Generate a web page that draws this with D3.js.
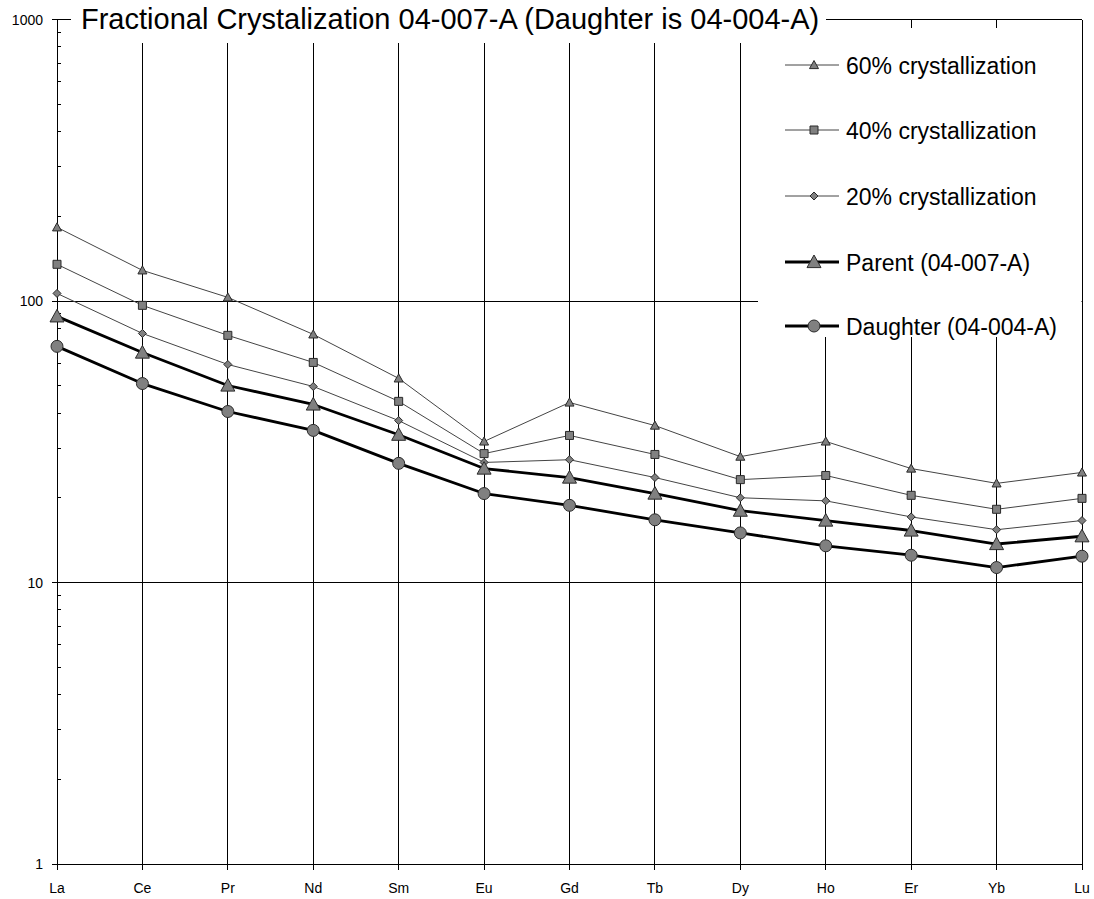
<!DOCTYPE html>
<html>
<head>
<meta charset="utf-8">
<script src="https://cdn.jsdelivr.net/npm/d3@7"></script>
<style>
  html, body { margin: 0; padding: 0; background: #fff; }
  svg { display: block; font-family: "Liberation Sans", Arial, sans-serif; }
</style>
</head>
<body>
<svg id="chart" width="1094" height="899"></svg>
<script>
// Rare earth elements along the x axis
const elements = ["La","Ce","Pr","Nd","Sm","Eu","Gd","Tb","Dy","Ho","Er","Yb","Lu"];

// Chondrite-normalised concentrations
const cryst60 = [182.7,128.5,103,76.1,53.1,31.7,43.6,36.1,28.0,31.7,25.4,22.5,24.6];
const cryst40 = [135,96.5,75.5,60.5,44,28.7,33.3,28.5,23.2,24.0,20.4,18.2,19.9];
const cryst20 = [106.4,76.7,59.5,49.7,37.6,26.7,27.3,23.6,20.0,19.5,17.1,15.4,16.6];
const parent  = [88.2,65.6,50.1,42.9,33.5,25.4,23.6,20.7,18.0,16.6,15.3,13.7,14.6];
const daughter= [69.0,50.9,40.5,34.7,26.5,20.7,18.8,16.7,15.0,13.5,12.5,11.3,12.4];

const yTickValues = [1, 10, 100, 1000];
const seriesNames = ["60% crystallization","40% crystallization","20% crystallization","Parent (04-007-A)","Daughter (04-004-A)"];
const titleText = "Fractional Crystalization 04-007-A (Daughter is 04-004-A)";

const series = [
  { name: seriesNames[0], values: cryst60, marker: "triangle", size: 9,  thick: false },
  { name: seriesNames[1], values: cryst40, marker: "square",   size: 8,  thick: false },
  { name: seriesNames[2], values: cryst20, marker: "diamond",  size: 8,  thick: false },
  { name: seriesNames[3], values: parent,  marker: "triangle", size: 14, thick: true },
  { name: seriesNames[4], values: daughter,marker: "circle",   size: 12, thick: true }
];

const svg = d3.select("#chart");
const plotLeft = 57, plotRight = 1082, plotTop = 19.5, plotBottom = 864;

const x = d3.scalePoint().domain(elements).range([plotLeft, plotRight]);
const y = d3.scaleLog().domain([1, 1000]).range([plotBottom, plotTop]);

svg.append("rect").attr("width", 1094).attr("height", 899).attr("fill", "#fff");

// Grid: vertical lines at each element, horizontal at decades
const grid = svg.append("g").attr("stroke", "#000").attr("stroke-width", 1).attr("shape-rendering", "crispEdges");
grid.selectAll("line.v").data(elements).join("line")
  .attr("class", "v")
  .attr("x1", d => x(d)).attr("x2", d => x(d))
  .attr("y1", y(1000)).attr("y2", y(1));
grid.selectAll("line.h").data(yTickValues).join("line")
  .attr("class", "h")
  .attr("x1", plotLeft).attr("x2", plotRight)
  .attr("y1", d => y(d)).attr("y2", d => y(d));

// Y axis with log minor ticks on the inside
const yAxis = svg.append("g").attr("shape-rendering", "crispEdges");
yAxis.append("line").attr("x1", plotLeft).attr("x2", plotLeft).attr("y1", y(1000)).attr("y2", y(1)).attr("stroke", "#000");
const minor = [];
[1, 10, 100].forEach(d => { for (let k = 2; k <= 9; k++) minor.push(d * k); });
yAxis.selectAll("line.minor").data(minor).join("line")
  .attr("class", "minor")
  .attr("x1", plotLeft).attr("x2", plotLeft + 4)
  .attr("y1", d => y(d)).attr("y2", d => y(d)).attr("stroke", "#000");
yAxis.selectAll("line.major").data(yTickValues).join("line")
  .attr("class", "major")
  .attr("x1", plotLeft - 5).attr("x2", plotLeft)
  .attr("y1", d => y(d)).attr("y2", d => y(d)).attr("stroke", "#000");
yAxis.selectAll("text").data(yTickValues).join("text")
  .attr("x", plotLeft - 14).attr("y", d => y(d) + 5)
  .attr("text-anchor", "end").attr("font-size", 14).text(d => d);

// X axis ticks and labels
const xAxis = svg.append("g").attr("shape-rendering", "crispEdges");
xAxis.selectAll("line").data(elements).join("line")
  .attr("x1", d => x(d)).attr("x2", d => x(d))
  .attr("y1", plotBottom).attr("y2", plotBottom + 6).attr("stroke", "#000");
xAxis.selectAll("text").data(elements).join("text")
  .attr("x", d => x(d)).attr("y", plotBottom + 29)
  .attr("text-anchor", "middle").attr("font-size", 14).text(d => d);

// Marker shapes
function markerPath(type, s) {
  const h = s / 2;
  if (type === "triangle") return `M0,${-h}L${h},${h * 0.8}L${-h},${h * 0.8}Z`;
  if (type === "square") return `M${-h},${-h}H${h}V${h}H${-h}Z`;
  if (type === "diamond") return `M0,${-h}L${h},0L0,${h}L${-h},0Z`;
  return d3.arc()({ innerRadius: 0, outerRadius: h, startAngle: 0, endAngle: 2 * Math.PI });
}

// Series lines and markers
const line = d3.line().x((d, i) => x(elements[i])).y(d => y(d));
const plot = svg.append("g");
series.forEach(s => {
  plot.append("path").attr("d", line(s.values))
    .attr("fill", "none")
    .attr("stroke", s.thick ? "#000" : "#444")
    .attr("stroke-width", s.thick ? 2.8 : 1)
    .attr("stroke-linejoin", "round");
});
series.forEach(s => {
  plot.selectAll(null).data(s.values).join("path")
    .attr("transform", (d, i) => `translate(${x(elements[i])},${y(d)})`)
    .attr("d", markerPath(s.marker, s.size))
    .attr("fill", "#808080").attr("stroke", "#2a2a2a").attr("stroke-width", 1);
});

// Legend
const legend = svg.append("g");
legend.append("rect").attr("x", 758).attr("y", 28).attr("width", 323.5).attr("height", 309).attr("fill", "#fff");
const rowY = [65, 130, 196, 262, 326];
series.forEach((s, i) => {
  const g = legend.append("g").attr("transform", `translate(0,${rowY[i]})`);
  g.append("line").attr("x1", 785).attr("x2", 839).attr("y1", 0).attr("y2", 0)
    .attr("stroke", s.thick ? "#000" : "#444").attr("stroke-width", s.thick ? 2.8 : 1);
  g.append("path").attr("transform", "translate(814,0)")
    .attr("d", markerPath(s.marker, s.size))
    .attr("fill", "#808080").attr("stroke", "#2a2a2a").attr("stroke-width", 1);
  g.append("text").attr("x", 846).attr("y", 8.5).attr("font-size", 23).text(s.name);
});

// Title on a white band over the top border
svg.append("rect").attr("x", 71).attr("y", 0).attr("width", 755).attr("height", 43).attr("fill", "#fff");
svg.append("text").attr("x", 81).attr("y", 29).attr("font-size", 29).text(titleText);
</script>
</body>
</html>
